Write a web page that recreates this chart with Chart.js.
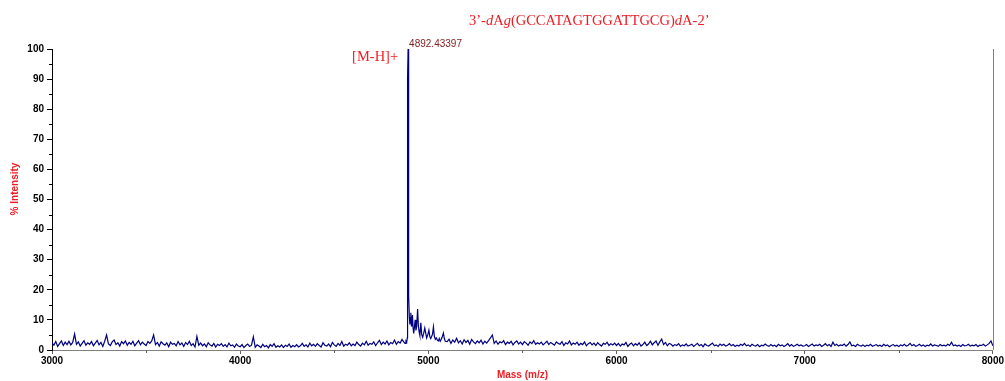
<!DOCTYPE html>
<html>
<head>
<meta charset="utf-8">
<script src="https://cdn.jsdelivr.net/npm/chart.js@4.4.1/dist/chart.umd.min.js"></script>
<style>
html,body{margin:0;padding:0;background:#fff;}
#c{display:block;}
</style>
</head>
<body>
<canvas id="c" width="1005" height="381"></canvas>
<script>
// ---- data ----
const massStep = 10;
const base3000Start = 3000;
const base3000 = [
2.4,1.6,2.8,1.2,2.1,3.0,1.5,2.6,1.8,2.9,
1.7,2.5,5.3,1.9,2.7,1.3,2.2,3.1,1.6,2.4,
1.9,2.8,1.4,2.3,3.2,1.7,2.5,1.2,2.9,5.0,
2.0,1.5,2.7,3.3,1.8,2.4,1.3,2.8,2.1,3.0,
1.6,2.5,1.9,2.9,1.4,2.3,3.1,1.7,2.6,2.0,
1.5,2.8,2.2,3.0,5.0,1.8,2.5,1.3,2.7,2.1,
1.6,2.4,1.1,2.6,1.9,2.2,1.4,2.8,1.7,2.3,
1.2,2.5,1.8,2.9,1.5,2.1,1.0,4.5,1.6,2.3,
1.4,2.0,1.1,2.4,1.7,1.3,2.2,1.0,1.9,1.5,
2.1,1.2,1.8,1.0,2.3,1.4,1.7,0.9,2.0,1.3];
const base4000Start = 4000;
const base4000 = [
1.1,1.8,0.8,1.5,2.0,1.2,1.6,4.4,0.9,1.7,
1.3,0.8,1.9,1.1,1.5,0.7,1.8,1.2,2.1,0.9,
1.4,1.0,1.7,0.8,1.6,1.2,2.0,0.9,1.5,1.1,
1.8,1.0,1.4,2.2,1.2,1.7,1.0,2.3,1.4,1.9,
1.2,2.1,1.5,1.0,2.4,1.6,1.3,2.0,1.1,2.5,
1.7,1.2,2.2,1.5,2.8,1.3,1.9,1.6,2.4,1.4,
2.0,1.5,2.6,1.8,1.3,2.3,1.7,2.9,1.6,2.2,
1.9,2.7,1.5,2.4,3.2,1.8,2.6,2.0,3.0,1.7,
2.5,2.1,3.3,1.9,2.8,2.3,3.5,2.6];
const peakMasses = [4876,4881,4885,4888,4889.5,4892.43,4894,4896.5,4899,4902,4904,4907,4910,4912,4915.6,4919,4922,4925,4930,4934,4938,4943,4947,4951,4955,4960,4965,4970,4975,4981,4986,4991,4997,5003,5008,5013,5018,5022,5027,5032,5037,5042,5048,5053,5058,5063,5068,5073,5080,5085,5090];
const peakValues = [2.2,3.0,2.6,4.0,90,100,30,18,11,8.5,10,12.4,8.0,9.5,11.6,7.3,5.5,7.0,10,6.5,7.8,13.6,8,6,4.8,9,5,4.2,5.5,7.3,5.6,4.0,5.0,6.6,4.4,3.8,4.6,5.2,7.7,4.5,3.6,4.0,3.3,3.0,3.8,2.9,3.5,4.2,5.6,3.8,2.9];
const base5100Start = 5100;
const base5100 = [
2.8,3.6,2.2,3.3,2.6,3.9,2.4,3.1,2.0,3.4,
2.5,3.2,1.9,3.5,2.7,2.1,3.0,2.4,3.3,2.0,
2.9,2.3,3.1,4.0,5.0,2.2,3.0,1.9,2.7,2.4,
3.1,1.8,2.6,2.2,2.9,1.7,2.5,3.0,2.0,2.6,
1.8,2.8,2.3,1.6,2.7,2.1,3.1,1.9,2.4,2.0,
2.6,1.7,2.3,2.9,1.8,2.5,2.1,1.6,2.7,2.2,
1.9,2.8,1.5,2.4,2.0,3.0,1.7,2.3,1.9,2.6,
1.6,2.2,1.8,2.7,1.4,2.1,2.5,1.7,2.3,1.5,
2.4,1.8,1.3,2.2,1.9,2.6,1.5,2.1,1.7,2.3];
const base6000Start = 6000;
const base6000 = [
1.5,2.2,1.3,2.0,1.7,2.5,1.2,1.9,2.3,1.4,
2.1,1.6,2.4,1.3,1.8,2.6,1.5,2.0,2.9,1.7,
2.4,3.0,1.6,2.7,3.6,1.8,2.5,1.4,2.2,1.9,
1.3,1.8,1.5,2.1,1.2,1.7,1.4,2.0,1.3,1.6,
1.9,1.2,1.7,2.2,1.4,1.8,1.1,2.0,1.5,1.3,
1.8,2.3,1.4,1.7,1.2,2.0,1.5,1.9,1.3,1.6,
2.1,1.4,1.8,1.2,1.6,1.3,1.9,1.5,2.2,1.4,
1.7,1.2,1.9,1.5,1.3,1.8,1.1,1.6,1.4,2.0,
1.5,1.2,1.8,1.3,1.6,1.1,1.9,1.4,1.7,1.2,
1.6,2.1,1.3,1.8,1.2,1.5,1.9,1.4,1.7,1.3];
const base7000Start = 7000;
const base7000 = [
1.4,1.8,1.2,1.6,2.0,1.3,1.7,1.5,1.9,1.2,
1.6,2.1,1.4,1.8,1.2,2.6,1.5,1.9,1.3,1.7,
1.5,2.0,1.3,1.8,2.7,1.4,1.6,1.2,1.9,1.5,
1.3,1.7,1.2,1.6,1.4,1.9,1.2,1.5,1.8,1.3,
1.6,1.2,1.9,1.4,1.7,1.1,1.5,1.8,1.3,1.6,
1.2,1.7,1.4,1.9,1.3,1.6,2.2,1.4,1.8,1.2,
1.5,1.9,1.3,1.7,1.2,1.6,1.4,2.0,1.3,1.7,
1.5,1.2,1.8,1.4,1.6,1.3,1.9,1.5,2.6,1.4,
1.7,1.3,1.6,1.2,1.8,1.4,1.5,1.9,1.3,1.6,
1.4,1.8,1.2,1.6,1.5,1.9,1.3,1.7,2.2,3.0,1.4];
const xTicks = [3000,4000,5000,6000,7000,8000];
const yTicks = [0,10,20,30,40,50,60,70,80,90,100];
const peakLabel = "4892.43397";
const peakMass = 4892.43;
const ionLabel = "[M-H]+";
const titleParts = [["3’-",false],["d",true],["A",false],["g",true],["(GCCATAGTGGATTGCG)",false],["d",true],["A-2’",false]];
const xTitle = "Mass (m/z)";
const yTitle = "% Intensity";

// ---- build points ----
const points = [];
function addBase(start, arr){ arr.forEach((v,i)=>points.push({x:start+i*massStep,y:v})); }
addBase(base3000Start, base3000);
addBase(base4000Start, base4000);
peakMasses.forEach((m,i)=>points.push({x:m,y:peakValues[i]}));
addBase(base5100Start, base5100);
addBase(base6000Start, base6000);
addBase(base7000Start, base7000);

const RED = '#ee1c24';

const decor = {
  id:'decor',
  afterDraw(chart){
    const ctx = chart.ctx, xs = chart.scales.x, ys = chart.scales.y, a = chart.chartArea;
    ctx.save();
    // right frame line
    ctx.strokeStyle = '#808080'; ctx.lineWidth = 1;
    ctx.beginPath(); ctx.moveTo(Math.round(a.right)+0.5, a.top); ctx.lineTo(Math.round(a.right)+0.5, a.bottom); ctx.stroke();
    // minor ticks
    ctx.strokeStyle = '#000';
    for (let v=5; v<100; v+=10){
      const y = Math.round(ys.getPixelForValue(v))+0.5;
      ctx.beginPath(); ctx.moveTo(a.left-3, y); ctx.lineTo(a.left, y); ctx.stroke();
    }
    ctx.strokeStyle = '#606060';
    for (let v=3500; v<8000; v+=1000){
      const x = Math.round(xs.getPixelForValue(v))+0.5;
      ctx.beginPath(); ctx.moveTo(x, a.bottom); ctx.lineTo(x, a.bottom+3); ctx.stroke();
    }
    // y title
    ctx.fillStyle = RED;
    ctx.font = 'bold 10px "Liberation Sans", Arial, sans-serif';
    ctx.textAlign = 'center'; ctx.textBaseline = 'middle';
    ctx.translate(15, 189); ctx.rotate(-Math.PI/2);
    ctx.fillText(yTitle, 0, 0);
    ctx.restore();

    ctx.save();
    const px = xs.getPixelForValue(peakMass);
    const py = ys.getPixelForValue(100);
    // peak label
    ctx.fillStyle = '#802020';
    ctx.font = '10px "Liberation Sans", Arial, sans-serif';
    ctx.textAlign = 'left'; ctx.textBaseline = 'alphabetic';
    ctx.fillText(peakLabel, px+1, py-2);
    // ion label
    ctx.fillStyle = RED;
    ctx.font = '14.5px "Liberation Serif", "Times New Roman", serif';
    ctx.textAlign = 'right';
    ctx.fillText(ionLabel, px-10, 61);
    // title with italics
    ctx.textAlign = 'left';
    let tx = 469;
    for (const [t,it] of titleParts){
      ctx.font = (it?'italic ':'') + '14.5px "Liberation Serif", "Times New Roman", serif';
      ctx.fillText(t, tx, 25);
      tx += ctx.measureText(t).width;
    }
    ctx.restore();
  }
};

new Chart(document.getElementById('c'), {
  type:'line',
  data:{datasets:[{data:points, borderColor:'#000080', borderWidth:1.2, pointRadius:0, tension:0, fill:false}]},
  options:{
    responsive:false, animation:false, parsing:true,
    plugins:{legend:{display:false}, tooltip:{enabled:false}},
    layout:{padding:{left:0,right:10,top:49,bottom:0}},
    scales:{
      x:{type:'linear', min:3000, max:8000,
        afterBuildTicks(s){ s.ticks = xTicks.map(v=>({value:v})); },
        afterFit(s){ s.height = 31; },
        ticks:{color:'#000', font:{family:'"Liberation Sans", Arial, sans-serif', size:10, weight:'bold'}, padding:1, maxRotation:0, autoSkip:false, callback:v=>String(v)},
        grid:{drawOnChartArea:false, drawTicks:true, tickLength:4, color:'#606060'},
        border:{color:'#808080', width:1},
        title:{display:true, text:xTitle, color:RED, font:{family:'"Liberation Sans", Arial, sans-serif', size:10, weight:'bold'}, padding:0}
      },
      y:{min:0, max:100,
        afterBuildTicks(s){ s.ticks = yTicks.map(v=>({value:v})); },
        afterFit(s){ s.width = 52; },
        ticks:{color:'#000', font:{family:'"Liberation Sans", Arial, sans-serif', size:10, weight:'bold'}, padding:3, autoSkip:false, callback:v=>String(v)},
        grid:{drawOnChartArea:false, drawTicks:true, tickLength:5, color:'#000'},
        border:{color:'#000', width:1}
      }
    }
  },
  plugins:[decor]
});
</script>
</body>
</html>
